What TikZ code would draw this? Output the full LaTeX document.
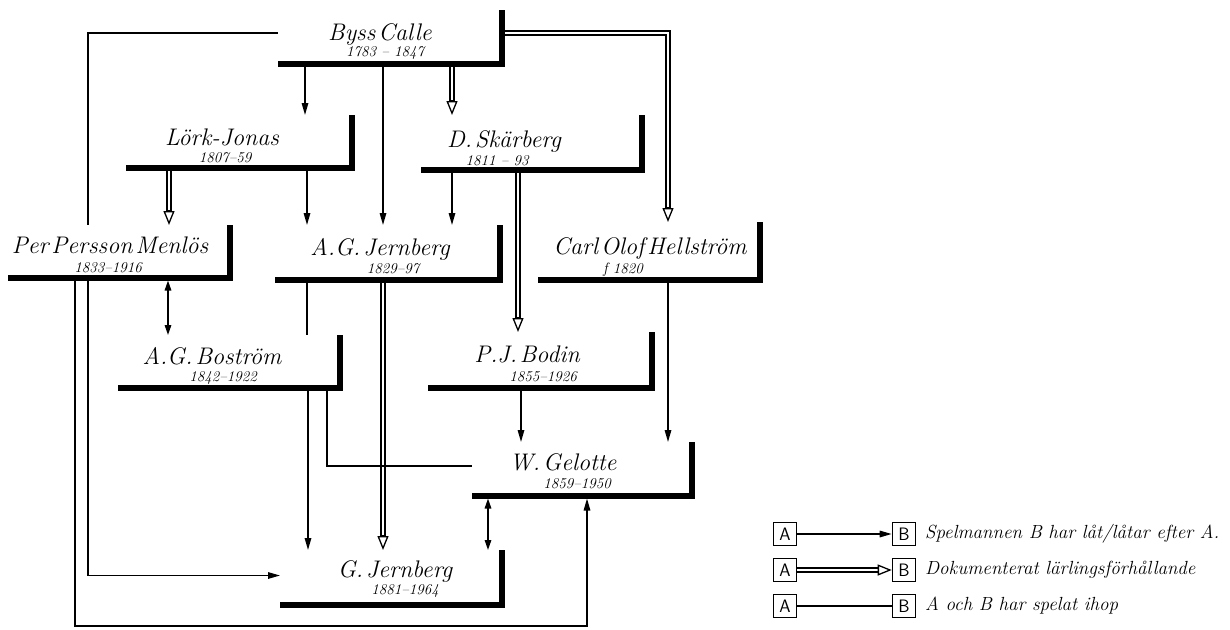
\documentclass[tikz,border=0pt]{standalone}
\usetikzlibrary{arrows.meta}
\newcommand\myNameFont{\fontsize{24}{26}\selectfont\itshape\spaceskip=3pt\relax}
\begin{document}
\begin{tikzpicture}[x=1pt,y=-1pt,
  pbox/.style={draw=none, inner sep=0pt, outer sep=0pt, anchor=south west},
  bar/.style={line width=5.5pt, line join=miter},
  pname/.style={font=\myNameFont, inner sep=0pt},
  pyrs/.style={font=\fontsize{15}{17}\selectfont\itshape, inner sep=0pt},
  con/.style={line width=1.5pt},
  arr/.style={con, -{Triangle[length=12pt,width=6.5pt]}},
  darr/.style={con, {Triangle[length=10pt,width=6.5pt]}-{Triangle[length=10pt,width=6.5pt]}, shorten <=2.5pt},
  dbl/.style={line width=1.3pt, double=white, double distance=2.8pt},
  otip/.style={line width=1.3pt, -{Triangle[open,length=14pt,width=11pt,fill=white]}},
  lbox/.style={draw, line width=1.6pt, minimum width=23pt, minimum height=23pt, inner sep=0pt, font=\sffamily\fontsize{18}{18}\selectfont},
  ltext/.style={anchor=west, inner sep=0pt, font=\fontsize{19}{21}\selectfont\itshape}
]
\useasboundingbox (0,0) rectangle (1230,629);

% person boxes
\node[pbox, minimum width=224pt, minimum height=54pt] (bc) at (278,64) {};
\node[pbox, minimum width=226pt, minimum height=53pt] (lj) at (126,168) {};
\node[pbox, minimum width=221pt, minimum height=55pt] (ds) at (421,170) {};
\node[pbox, minimum width=222pt, minimum height=53pt] (pm) at (8,278) {};
\node[pbox, minimum width=225pt, minimum height=55pt] (aj) at (275,280) {};
\node[pbox, minimum width=222pt, minimum height=58pt] (ch) at (538,280) {};
\node[pbox, minimum width=222pt, minimum height=53pt] (ab) at (118,388) {};
\node[pbox, minimum width=224pt, minimum height=56pt] (pb) at (428,388) {};
\node[pbox, minimum width=220pt, minimum height=54pt] (wg) at (472,496) {};
\node[pbox, minimum width=222pt, minimum height=55pt] (gj) at (280,605) {};

% names and years
\node[pname] (bcN) at (380,34) {Byss Calle};
\node[pyrs]  (bcY) at (385,53) {1783 -- 1847};
\node[pname] (ljN) at (222,137) {Lörk-Jonas};
\node[pyrs]  (ljY) at (225,158) {1807--59};
\node[pname] (dsN) at (504,141) {D. Skärberg};
\node[pyrs]  (dsY) at (497,161) {1811 -- 93};
\node[pname] (pmN) at (110,245) {Per Persson Menlös};
\node[pyrs]  (pmY) at (108,268) {1833--1916};
\node[pname] (ajN) at (380,249) {A.G. Jernberg};
\node[pyrs]  (ajY) at (393,269) {1829--97};
\node[pname] (chN) at (650,248) {Carl Olof Hellström};
\node[pyrs]  (chY) at (623,270) {f 1820};
\node[pname] (abN) at (212,356) {A.G. Boström};
\node[pyrs]  (abY) at (223,378) {1842--1922};
\node[pname] (pbN) at (527,354) {P.J. Bodin};
\node[pyrs]  (pbY) at (543,377) {1855--1926};
\node[pname] (wgN) at (563,462) {W. Gelotte};
\node[pyrs]  (wgY) at (577,484) {1859--1950};
\node[pname] (gjN) at (395,571) {G. Jernberg};
\node[pyrs]  (gjY) at (405,591) {1881--1964};

% connectors
\draw[con] ([yshift=4pt]bc.west) -| ([xshift=80pt]pm.north west);
\draw[arr] ([xshift=27pt]bc.south west) -- ([xshift=179pt]lj.north west);
\draw[arr] ([xshift=105pt]bc.south west) -- ([xshift=108pt]aj.north west);
\draw[dbl] ([xshift=174pt]bc.south west) -- ([xshift=31pt,yshift=11pt]ds.north west);
\draw[otip] ([xshift=31pt,yshift=15pt]ds.north west) -- ([xshift=31pt]ds.north west);
\draw[dbl] ([yshift=4pt]bc.east) -| ([xshift=130pt,yshift=11pt]ch.north west);
\draw[otip] ([xshift=130pt,yshift=15pt]ch.north west) -- ([xshift=130pt]ch.north west);
\draw[dbl] ([xshift=43pt]lj.south west) -- ([xshift=161pt,yshift=11pt]pm.north west);
\draw[otip] ([xshift=161pt,yshift=15pt]pm.north west) -- ([xshift=161pt]pm.north west);
\draw[arr] ([xshift=181pt]lj.south west) -- ([xshift=32pt]aj.north west);
\draw[arr] ([xshift=31pt]ds.south west) -- ([xshift=177pt]aj.north west);
\draw[dbl] ([xshift=97pt]ds.south west) -- ([xshift=90pt,yshift=11pt]pb.north west);
\draw[otip] ([xshift=90pt,yshift=15pt]pb.north west) -- ([xshift=90pt]pb.north west);
\draw[darr] ([xshift=160pt]pm.south west) -- ([xshift=50pt]ab.north west);
\draw[con] ([xshift=32pt]aj.south west) -- ([xshift=189pt]ab.north west);
\draw[dbl] ([xshift=108pt]aj.south west) -- ([xshift=103pt,yshift=11pt]gj.north west);
\draw[otip] ([xshift=103pt,yshift=15pt]gj.north west) -- ([xshift=103pt]gj.north west);
\draw[arr] ([xshift=190pt]ab.south west) -- ([xshift=28pt]gj.north west);
\draw[con] ([xshift=209pt]ab.south west) |- ([yshift=3pt]wg.west);
\draw[arr] ([xshift=93pt]pb.south west) -- ([xshift=49pt]wg.north west);
\draw[arr] ([xshift=130pt]ch.south west) -- ([xshift=196pt]wg.north west);
\draw[darr] ([xshift=16pt]wg.south west) -- ([xshift=208pt]gj.north west);
\draw[arr] ([xshift=80pt]pm.south west) |- ([yshift=2pt]gj.west);
\draw[arr, shorten >=2.5pt] ([xshift=67pt]pm.south west) -- ++(0,348) -| ([xshift=115pt]wg.south west);

% bars
\foreach \n in {bc,lj,ds,pm,aj,ch,ab,pb,wg,gj}
  \draw[bar] (\n.south west) -- (\n.south east) -- (\n.north east);

% legend
\node[lbox] (la1) at (785,534) {A};
\node[lbox] (lb1) at (904,534) {B};
\node[lbox] (la2) at (785,570) {A};
\node[lbox] (lb2) at (904,570) {B};
\node[lbox] (la3) at (785,606) {A};
\node[lbox] (lb3) at (904,606) {B};
\draw[arr] (la1) -- (lb1);
\draw[dbl] (la2.east) -- ([xshift=-10pt]lb2.west);
\draw[otip] ([xshift=-14pt]lb2.west) -- (lb2.west);
\draw[con] (la3) -- (lb3);
\node[ltext] (lt1) at (925,534) {Spelmannen B har låt/låtar efter A.};
\node[ltext] (lt2) at (925,570) {Dokumenterat lärlingsförhållande};
\node[ltext] (lt3) at (925,606) {A och B har spelat ihop};
\end{tikzpicture}
\end{document}
